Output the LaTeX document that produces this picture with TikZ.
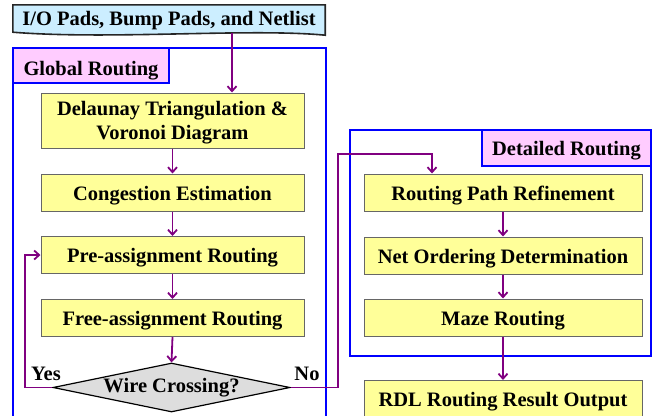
\documentclass[tikz,border=0pt]{standalone}
\usepackage{fontspec}
\setmainfont{Liberation Serif}
\usetikzlibrary{shapes.geometric,arrows.meta,backgrounds}
\definecolor{boxyellow}{HTML}{FFFF99}
\definecolor{boxgray}{HTML}{DDDDDD}
\definecolor{inputblue}{HTML}{CCEEFF}
\definecolor{tagpink}{HTML}{FFCCFF}
\definecolor{flowpurple}{HTML}{800080}
\begin{document}
\begin{tikzpicture}
[x=1pt,y=-1pt,
  font=\fontsize{20.5}{24}\selectfont\bfseries,
  boxdecorate/.style={shape=rectangle,draw=black!60,line width=1pt,fill=boxyellow,
    inner sep=0pt,align=center,minimum height=37pt},%
  tagdecorate/.style={shape=rectangle,draw=blue,line width=1.6pt,fill=tagpink,inner sep=0pt},%
  framedecorate/.style={draw=blue,line width=1.6pt},%
  linedecorate/.style={draw=flowpurple,line width=1.8pt,-{Straight Barb[length=5pt,width=9pt]}}]
\clip (0,0) rectangle (658,415);
%% frames of the two stages
\draw[framedecorate] (13,48) rectangle (326,440);
\draw[framedecorate] (350,130) rectangle (651,356);
\node (globaltag) at (91,65.5) [tagdecorate,minimum width=156pt,minimum height=35pt,
  text height=19pt,text depth=0pt] {Global Routing};
\node (detailtag) at (566.5,148) [tagdecorate,minimum width=169pt,minimum height=36pt,
  text height=16.5pt,text depth=2.5pt] {Detailed Routing};
%% input
\node (input) at (169,19) [inner sep=0pt,minimum width=312pt,minimum height=28pt,
  text height=16pt,text depth=4pt] {I/O Pads, Bump Pads, and Netlist};
\begin{scope}[on background layer]
\draw[fill=inputblue,line width=1.6pt,draw=black!85] (input.north west) -- (input.north east)
  -- ([yshift=-2pt]input.south east) .. controls (250,28) and (110,40) .. ([yshift=1pt]input.south west) -- cycle;
\end{scope}
%% steps
\node (delaunay) at (172.5,120.5) [boxdecorate,minimum width=263pt,minimum height=55pt,
  text depth=0pt] {Delaunay Triangulation \&\\Voronoi Diagram};
\foreach \nodename/\x/\y/\wide/\steptext in {congestion/172.5/192.5/263/{Congestion Estimation},
  preassign/172.5/255/263/{Pre-assignment Routing},
  freeassign/172.5/318/263/{Free-assignment Routing},
  refine/503/192.5/278/{Routing Path Refinement},
  ordering/503/255.5/278/{Net Ordering Determination},
  maze/503/317.5/278/{Maze Routing},
  output/503/399/278/{RDL Routing Result Output}} {
  \node (\nodename) at (\x,\y) [boxdecorate,minimum width=\wide pt,
    text height=17pt,text depth=2pt] {\steptext};
}
\node (crossing) at (171.5,387.5) [shape=diamond,draw=black,line width=1.2pt,fill=boxgray,
  inner sep=0pt,shape aspect=4.8,minimum width=237pt,minimum height=49pt] {Wire Crossing?};
\node (yes) at (46,374) {Yes};
\node (no) at (307,374) {No};
%% edges or lines
\coordinate (inputtap) at (232,0);
\coordinate (yesbend) at (25,0);
\coordinate (nobend) at (338,154);
\coordinate (nodrop) at (432,154);
\draw[linedecorate] (inputtap |- input.south) -- (inputtap |- delaunay.north);
\path
\foreach \startnode/\endnode in {delaunay/congestion, congestion/preassign,
  preassign/freeassign, freeassign/crossing, refine/ordering, ordering/maze,
  maze/output} {
  (\startnode.south) edge[linedecorate] (\endnode.north)
};
\draw[linedecorate] (crossing.west) -| (yesbend |- preassign.west) -- (preassign.west);
\draw[linedecorate] (crossing.east) -| (nobend) -- (nodrop) -- (nodrop |- refine.north);
\end{tikzpicture}
\end{document}
